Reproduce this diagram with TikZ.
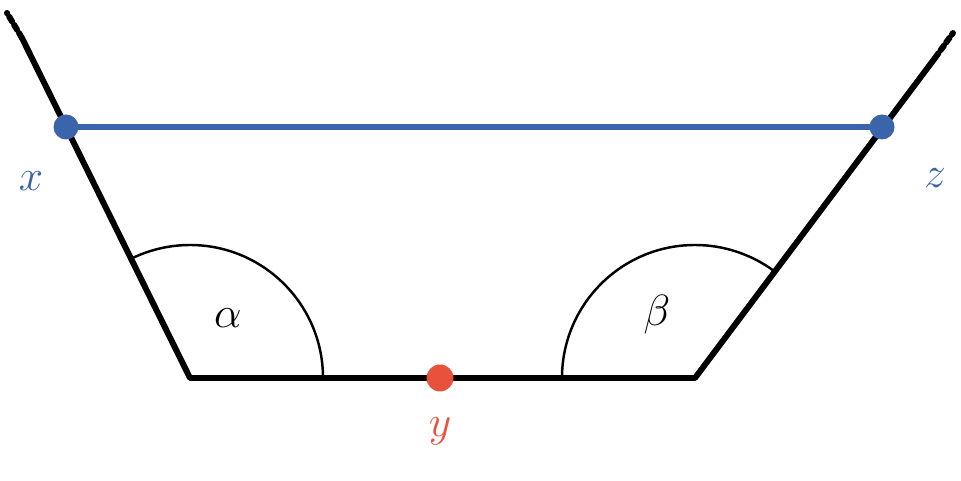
\documentclass[tikz,border=0pt]{standalone}
\usetikzlibrary{calc}
\begin{document}
\begin{tikzpicture}

\definecolor{ptblue}{RGB}{59, 101, 170}
\definecolor{ptred}{RGB}{232, 82, 60}

\def\arcrad{2.66}
\def\bigfont{\fontsize{40}{40}\selectfont}

\useasboundingbox (0,0) rectangle (19.22,9.62);

% CORNERS AND POINTS
\coordinate (botLeft) at (3.8,2.06);
\coordinate (botRight) at (13.9,2.06);
\coordinate (ptX) at (1.32,7.08);
\coordinate (ptZ) at (17.64,7.08);
\coordinate (ptY) at (8.8,2.06);
\coordinate (leftEnd) at (0.44,8.86);
\coordinate (rightEnd) at (18.7,8.46);

% DRAW THE ANGLE ARCS
\draw[line width=1.4pt] ($(botLeft)+(\arcrad,0)$) arc (0:116.3:\arcrad);
\draw[line width=1.4pt] ($(botRight)-(\arcrad,0)$) arc (180:53.3:\arcrad);
\node[font=\fontsize{30}{30}\selectfont] (alphaText) at (4.56,3.26) {$\alpha$};
\node[font=\fontsize{30}{30}\selectfont] (betaText) at (13.14,3.32) {$\beta$};

% DRAW THE PATH
\draw[line width=3.4pt,line join=round] (leftEnd) -- (botLeft) -- (botRight) -- (rightEnd);
\draw[line width=3.4pt,dotted,line cap=round] (leftEnd) -- ++(-0.3,0.5);
\draw[line width=3.4pt,dotted,line cap=round] (rightEnd) -- ++(0.36,0.5);

% DRAW THE CHORD
\draw[line width=3.2pt,ptblue] (ptX) -- (ptZ);
\fill[ptblue] (ptX) circle (0.25);
\fill[ptblue] (ptZ) circle (0.25);
\fill[ptred] (ptY) circle (0.27);

\node[ptblue,font=\bigfont] (xText) at (0.62,6.0) {$x$};
\node[ptblue,font=\bigfont] (zText) at (18.7,6.05) {$z$};
\node[ptred,font=\bigfont] (yText) at (8.8,1.0) {$y$};

\end{tikzpicture}
\end{document}
